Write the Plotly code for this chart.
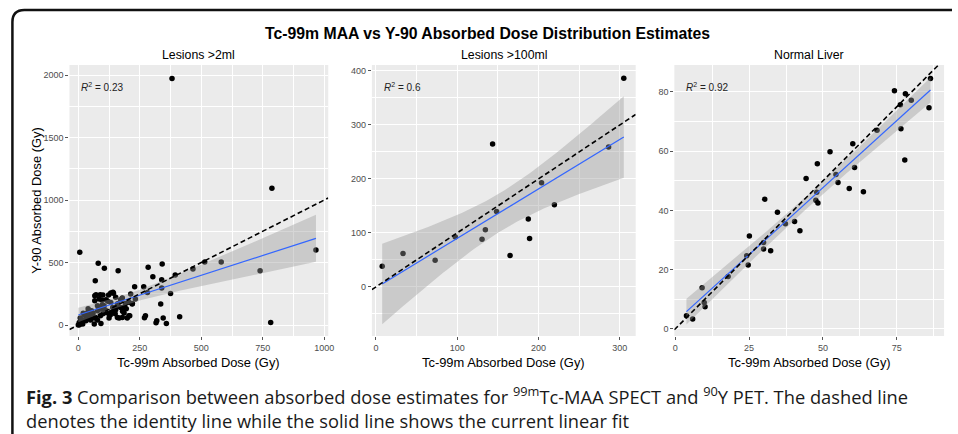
import numpy as np
import plotly.graph_objects as go

W, H = 958, 434

main_title = "Tc-99m MAA vs Y-90 Absorbed Dose Distribution Estimates"
panel_titles = ["Lesions >2ml", "Lesions >100ml", "Normal Liver"]
r2_labels = ["0.23", "0.6", "0.92"]
x_title = "Tc-99m Absorbed Dose (Gy)"
y_title = "Y-90 Absorbed Dose (Gy)"
caption_1 = ("<b>Fig. 3</b> Comparison between absorbed dose estimates for "
             "<sup>99m</sup>Tc-MAA SPECT and <sup>90</sup>Y PET. The dashed line")
caption_2 = "denotes the identity line while the solid line shows the current linear fit"

# ---- Panel 1: Lesions >2ml ----
p1_x = [381, 787, 966, 739, 782, 6, 81, 106, 162, 69, 284, 341, 303, 339, 394, 514, 581, 466,
        229, 266, 281, 339, 375, 335, 412, 345, 358, 319, 316, 273, 269, 209, 220, 232,
        72, 89, 100, 123, 132, 141, 67, 85, 113, 152, 172, 213, 192, 155, 132, 98, 78, 54,
        38, 24, 8, 4, 18, 0, 65, 78, 92, 65, 125, 112, 132, 152, 172, 166, 199, 186, 96,
        179, 188, 206, 159, 179, 105, 92, 78, 51, 38, 11, 5, 31, 125, 145, 206, 219, 143,
        67, 45, 60, 85, 110, 140, 160, 120, 100, 70, 30, 15, 10, 50, 90, 130, 150, 180,
        195, 20, 40]
p1_y = [1973, 1095, 601, 435, 21, 582, 494, 454, 435, 355, 462, 489, 387, 363, 401, 505, 505, 449,
        307, 307, 261, 297, 253, 168, 67, 56, 13, 34, 18, 75, 59, 75, 173, 208,
        242, 242, 240, 241, 257, 262, 195, 208, 203, 222, 203, 248, 173, 147, 181, 163, 155, 115,
        101, 83, 56, 21, 8, 0, 56, 40, 13, 8, 56, 101, 101, 123, 141, 56, 56, 96, 200,
        217, 147, 75, 61, 61, 155, 128, 115, 88, 61, 35, 3, 35, 88, 110, 182, 168, 254,
        235, 70, 95, 130, 120, 140, 170, 190, 90, 60, 50, 20, 45, 40, 75, 80, 90, 110,
        130, 95, 130]
p1_xticks = [0, 250, 500, 750, 1000]
p1_yticks = [0, 500, 1000, 1500, 2000]

# ---- Panel 2: Lesions >100ml ----
p2_x = [7.7, 33.3, 72.8, 97.6, 130.5, 134.6, 143.5, 148.4, 165, 187.4, 189, 203.7, 219.5, 286.2, 304.9]
p2_y = [38.3, 61.7, 49.4, 92.6, 88.3, 105.6, 264.8, 139.5, 58, 125.9, 89.5, 193.1, 151.9, 259.3, 386.5]
p2_xticks = [0, 100, 200, 300]
p2_yticks = [0, 100, 200, 300, 400]

# ---- Panel 3: Normal Liver ----
p3_x = [86.4, 74.2, 77.9, 76.2, 79.9, 85.9, 68.3, 76.4, 77.7, 52.4, 60.1, 48.1, 54.4, 60.7, 44.3,
        55.1, 58.9, 63.7, 47.9, 30.3, 47.6, 48.3, 34.6, 40.4, 37.3, 42.2, 25.1, 29.9, 29.9, 32.3,
        24.2, 24.7, 17.9, 9.1, 9.8, 10.1, 3.8, 5.9]
p3_y = [84.5, 80.4, 79.4, 75.7, 77.2, 74.7, 67.1, 67.6, 57.0, 59.8, 62.5, 55.8, 52.1, 54.5, 50.8,
        49.4, 47.4, 46.3, 46.1, 43.8, 43.4, 42.5, 39.4, 36.3, 35.5, 33.1, 31.4, 29.2, 27.0, 26.4,
        24.7, 21.6, 17.7, 13.9, 8.9, 7.5, 4.4, 3.3]
p3_xticks = [0, 25, 50, 75]
p3_yticks = [0, 20, 40, 60, 80]

# layout (pixel geometry)
panels = [
    dict(x=p1_x, y=p1_y, xt=p1_xticks, yt=p1_yticks, px=(68, 329), xr=[-36, 1016], yr=[-88, 2080]),
    dict(x=p2_x, y=p2_y, xt=p2_xticks, yt=p2_yticks, px=(373, 639), xr=[-5, 319.5], yr=[-91, 411]),
    dict(x=p3_x, y=p3_y, xt=p3_xticks, yt=p3_yticks, px=(678, 950), xr=[-0.3, 91], yr=[-2.4, 89.1]),
]
PY_TOP, PY_BOT = 65, 336
SANS = "Liberation Sans, Arial"


def t975(df):
    z = 1.959963985
    return (z + (z**3 + z) / (4 * df) + (5 * z**5 + 16 * z**3 + 3 * z) / (96 * df**2)
            + (3 * z**7 + 19 * z**5 + 17 * z**3 - 15 * z) / (384 * df**3))


def lm_band(x, y, n_out=80):
    x = np.asarray(x, float)
    y = np.asarray(y, float)
    n = len(x)
    xb = x.mean()
    sxx = ((x - xb) ** 2).sum()
    b = ((x - xb) * (y - y.mean())).sum() / sxx
    a = y.mean() - b * xb
    resid = y - (a + b * x)
    s = np.sqrt((resid ** 2).sum() / (n - 2))
    xs = np.linspace(x.min(), x.max(), n_out)
    yh = a + b * xs
    se = s * np.sqrt(1 / n + (xs - xb) ** 2 / sxx)
    t = t975(n - 2)
    return xs, yh, yh + t * se, yh - t * se


def minor_between(ticks, rng):
    step = ticks[1] - ticks[0]
    vals = [ticks[0] - step / 2] + [t + step / 2 for t in ticks]
    return [v for v in vals if rng[0] < v < rng[1]]


def note(fig, xp, yp, text, size, family=SANS, xanchor="center", color="black", angle=0):
    fig.add_annotation(x=xp / W, y=1 - yp / H, xref="paper", yref="paper", text=text,
                       xanchor=xanchor, yanchor="middle", textangle=angle, showarrow=False,
                       font=dict(family=family, size=size, color=color))


fig = go.Figure()
tickfont = dict(family=SANS, size=9, color="#4D4D4D")

for i, p in enumerate(panels):
    k = "" if i == 0 else str(i + 1)
    xa, ya = "x" + k, "y" + k
    fig.add_trace(go.Scatter(x=p["x"], y=p["y"], mode="markers", xaxis=xa, yaxis=ya,
                             marker=dict(color="black", size=5.5), showlegend=False, hoverinfo="skip"))
    xs, yh, up, lo = lm_band(p["x"], p["y"])
    fig.add_trace(go.Scatter(x=list(xs) + list(xs[::-1]), y=list(up) + list(lo[::-1]), mode="lines",
                             fill="toself", fillcolor="rgba(153,153,153,0.4)", line=dict(width=0),
                             xaxis=xa, yaxis=ya, showlegend=False, hoverinfo="skip"))
    fig.add_trace(go.Scatter(x=xs, y=yh, mode="lines", line=dict(color="#3366FF", width=1.2),
                             xaxis=xa, yaxis=ya, showlegend=False, hoverinfo="skip"))
    fig.add_trace(go.Scatter(x=p["xr"], y=p["xr"], mode="lines",
                             line=dict(color="black", width=1.6, dash="5px,3px"),
                             xaxis=xa, yaxis=ya, showlegend=False, hoverinfo="skip"))
    common = dict(showgrid=True, gridcolor="white", gridwidth=1, zeroline=False, showline=False,
                  ticks="outside", ticklen=3, tickwidth=1, tickcolor="#555555", tickfont=tickfont,
                  tickmode="array")
    fig.layout["xaxis" + k] = dict(common, domain=[p["px"][0] / W, p["px"][1] / W], range=p["xr"],
                                   tickvals=p["xt"], anchor=ya,
                                   minor=dict(tickvals=minor_between(p["xt"], p["xr"]), showgrid=True,
                                              gridcolor="white", gridwidth=0.5, ticks=""))
    fig.layout["yaxis" + k] = dict(common, domain=[1 - PY_BOT / H, 1 - PY_TOP / H], range=p["yr"],
                                   tickvals=p["yt"], anchor=xa,
                                   minor=dict(tickvals=minor_between(p["yt"], p["yr"]), showgrid=True,
                                              gridcolor="white", gridwidth=0.5, ticks=""))
    cx = (p["px"][0] + p["px"][1]) / 2
    note(fig, cx, 55, panel_titles[i], 12.3)
    note(fig, cx, 362, x_title, 12.9)
    note(fig, p["px"][0] + 10, 87, "<i>R</i><sup>2</sup> = " + r2_labels[i], 10,
         xanchor="left", color="#222222")

note(fig, 35, 201, y_title, 12.9, angle=-90)
note(fig, 490, 33, "<b>" + main_title + "</b>", 15.8)
note(fig, 22, 395, caption_1, 18.3, family="Open Sans", xanchor="left", color="#1a1a1a")
note(fig, 22, 420, caption_2, 18.3, family="Open Sans", xanchor="left", color="#1a1a1a")


# rounded frame (left and top edges)
def px(xp, yp):
    return f"{xp / W:.5f},{1 - yp / H:.5f}"


fig.add_shape(type="path", xref="paper", yref="paper",
              path=f"M {px(10.5, 434)} L {px(10.5, 22)} Q {px(10.5, 10)} {px(22.5, 10)} L {px(958, 10)}",
              line=dict(color="#111111", width=2.5))

fig.update_layout(width=W, height=H, margin=dict(l=0, r=0, t=0, b=0), paper_bgcolor="white",
                  plot_bgcolor="#EBEBEB", showlegend=False)
fig.write_html("out.html")
